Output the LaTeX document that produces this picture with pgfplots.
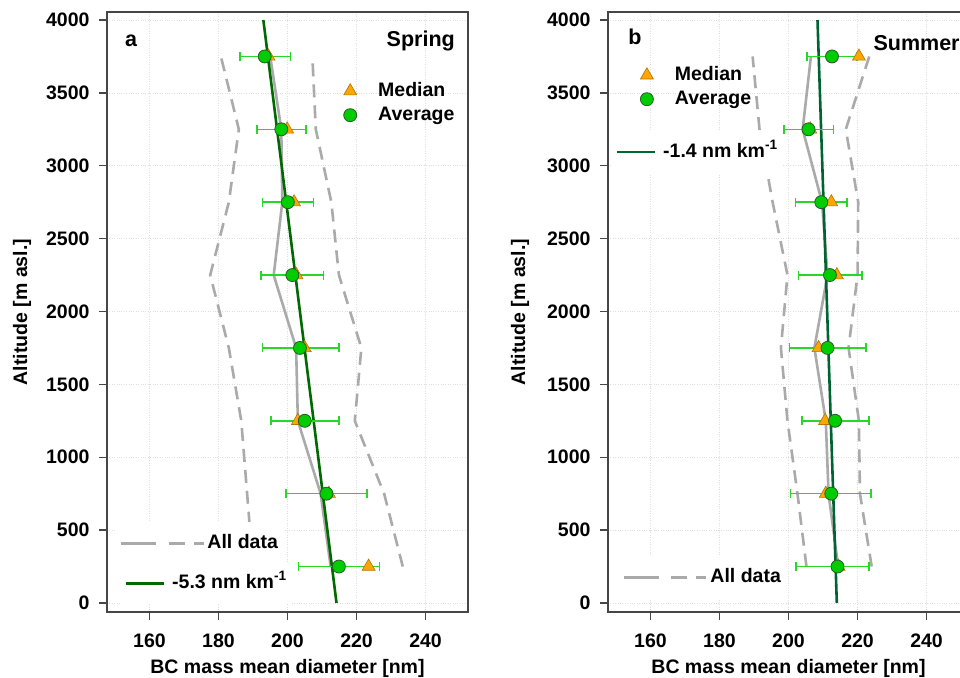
\documentclass[border=0pt]{standalone}
\usepackage{fontspec}
\setmainfont{Liberation Sans}
\usepackage{pgfplots}
\pgfplotsset{compat=1.18}

\definecolor{AxisGray}{RGB}{70,70,70}
\definecolor{GridGray}{RGB}{222,222,222}
\definecolor{AllGray}{RGB}{170,170,170}
\definecolor{RegA}{RGB}{0,105,0}
\definecolor{RegB}{RGB}{0,100,50}
\definecolor{ErrGreen}{RGB}{40,215,40}
\definecolor{AvgGreen}{RGB}{0,205,0}
\definecolor{AvgEdge}{RGB}{40,90,40}
\definecolor{MedOrange}{RGB}{255,165,0}
\definecolor{MedEdge}{RGB}{175,120,0}

\newcommand{\lbl}{\fontsize{19.5}{23}\selectfont\bfseries}
\newcommand{\ttl}{\fontsize{21.5}{25}\selectfont\bfseries}

\pgfplotsset{
  panel/.style={
    scale only axis, width=361pt, height=600pt, anchor=south west,
    xmin=147.7, xmax=252.3, ymin=-62, ymax=4055,
    xtick={160,180,200,220,240}, ytick={0,500,...,4000},
    tick pos=left, tick align=outside, major tick length=8pt,
    tick style={draw=AxisGray, line width=1.3pt},
    axis line style={draw=AxisGray, line width=1.3pt},
    grid=major, grid style={dotted, draw=GridGray, line width=0.7pt},
    ticklabel style={font=\lbl},
    xticklabel style={yshift=-10pt},
    yticklabel style={xshift=-6pt},
    /pgf/number format/assume math mode=true,
    /pgf/number format/1000 sep={},
    xlabel={BC mass mean diameter [nm]},
    ylabel={Altitude [m asl.]},
    every axis x label/.style={at={(axis description cs:0.5,-0.1017)}, anchor=base, font=\lbl},
    every axis y label/.style={at={(axis description cs:-0.2355,0.5)}, rotate=90, anchor=center, font=\lbl},
  },
  leg/.style={
    scale only axis, width=361pt, height=600pt, anchor=south west,
    hide axis, xmin=0, xmax=1, ymin=0, ymax=1,
    legend cell align=left,
    legend style={draw=none, font=\lbl, anchor=north west,
      nodes={inner sep=2pt, text height=14pt, text depth=4pt}},
  },
  markleg/.style={legend image code/.code={\draw[##1] plot coordinates {(0pt,0pt)}; \path[draw=none] (-8pt,0pt) -- (26pt,0pt);}},
  lineleg/.style={legend image code/.code={\draw[##1] (0pt,0pt) -- (#1,0pt); \path[draw=none] (0pt,0pt) -- (#1+2pt,0pt);}},
  regleg/.style={legend image code/.code={\draw[##1] (0pt,0pt) -- (38pt,0pt); \path[draw=none] (0pt,0pt) -- (44.7pt,0pt);}},
  medstyle/.style={only marks, mark=triangle*, mark size=7.5pt, mark options={fill=MedOrange, draw=MedEdge, line width=0.6pt}},
  avgstyle/.style={only marks, mark=*, mark size=6.5pt, mark options={fill=AvgGreen, draw=AvgEdge, line width=0.8pt}},
  errstyle/.style={ErrGreen, line width=1.6pt, only marks, mark=none, forget plot,
    error bars/.cd, x dir=both, x explicit, error mark=|,
    error bar style={draw=ErrGreen, line width=1.6pt},
    error mark options={draw=ErrGreen, line width=1.6pt, mark size=4.5pt}},
  grayline/.style={AllGray, line width=2.6pt},
  graydash/.style={AllGray, line width=2.6pt, dash pattern=on 13pt off 8pt},
  alldash/.style={AllGray, line width=2.6pt, dash pattern=on 35pt off 12pt on 16pt off 9pt on 10pt off 40pt},
}

\begin{document}
\begin{tikzpicture}
\useasboundingbox (0pt,0pt) rectangle (960pt,677pt);
\clip (0pt,0pt) rectangle (960pt,677pt);

% ---------------- panel a: Spring ----------------
\begin{axis}[panel, at={(107pt,65pt)}]
\addplot[grayline] coordinates {(212.5,250) (209.6,750) (203.0,1250) (202.5,1750) (196.0,2250) (198.5,2750) (198.2,3250) (195.0,3750)};
\addplot[graydash] coordinates {(190.0,250) (188.3,750) (186.6,1250) (183.0,1750) (177.6,2250) (183.0,2750) (185.9,3250) (180.7,3750)};
\addplot[graydash] coordinates {(233.4,250) (228.0,750) (219.5,1250) (221.4,1750) (214.9,2250) (212.7,2750) (208.2,3250) (207.2,3750)};
\addplot[RegA, line width=2.6pt] coordinates {(214.2,0) (193.0,4000)};
\addplot[errstyle] coordinates {
  (214.95,250) +- (11.75,0)
  (211.25,750) +- (11.75,0)
  (205.05,1250) +- (9.85,0)
  (203.85,1750) +- (11.05,0)
  (201.35,2250) +- (9.05,0)
  (200.15,2750) +- (7.35,0)
  (198.25,3250) +- (7.05,0)
  (193.55,3750) +- (7.35,0)
};
\addplot[medstyle] coordinates {(223.5,250) (212.0,750) (203.0,1250) (205.0,1750) (202.6,2250) (201.9,2750) (199.9,3250) (194.5,3750)};
\addplot[avgstyle] coordinates {(214.9,250) (211.3,750) (205.0,1250) (203.6,1750) (201.4,2250) (200.1,2750) (198.2,3250) (193.4,3750)};
\node[font=\ttl, anchor=base west, inner sep=0pt] at (rel axis cs:0.0499,0.9417) {a};
\node[font=\ttl, anchor=base east, inner sep=0pt] at (rel axis cs:0.964,0.9417) {Spring};
\end{axis}

\begin{axis}[leg, at={(107pt,65pt)}, legend style={at={(0.651,0.8867)}, fill=none, inner sep=0pt, row sep=2pt}]
\addlegendimage{medstyle, markleg}
\addlegendentry{Median}
\addlegendimage{avgstyle, markleg}
\addlegendentry{Average}
\end{axis}

\begin{axis}[leg, at={(107pt,65pt)}, legend style={at={(0.0277,0.15)}, fill=white, inner xsep=3pt, inner ysep=10pt}]
\addlegendimage{alldash, lineleg=82pt}
\addlegendentry{All data}
\end{axis}

\begin{axis}[leg, at={(107pt,65pt)}, legend style={at={(0.0388,0.0833)}, fill=white, inner xsep=3pt, inner ysep=10pt}]
\addlegendimage{RegA, line width=2.6pt, regleg}
\addlegendentry{-5.3 nm km\textsuperscript{-1}}
\end{axis}

% ---------------- panel b: Summer ----------------
\begin{axis}[panel, at={(608pt,65pt)}, every axis y label/.append style={at={(axis description cs:-0.2438,0.5)}}]
\addplot[grayline] coordinates {(214.4,250) (211.6,750) (210.8,1250) (207.5,1750) (211.3,2250) (209.7,2750) (204.1,3250) (206.5,3750)};
\addplot[graydash] coordinates {(205.2,250) (202.6,750) (199.7,1250) (197.8,1750) (199.7,2250) (195.4,2750) (191.6,3250) (189.6,3750)};
\addplot[graydash] coordinates {(224.1,250) (220.7,750) (220.4,1250) (217.4,1750) (220.0,2250) (220.2,2750) (216.6,3250) (223.4,3750)};
\addplot[RegB, line width=2.6pt] coordinates {(214.0,0) (208.4,4000)};
\addplot[errstyle] coordinates {
  (214.2,250) += (9.1,0) -= (12.1,0)
  (212.4,750) += (11.5,0) -= (11.8,0)
  (213.5,1250) += (9.9,0) -= (9.6,0)
  (211.3,1750) += (11.1,0) -= (11.0,0)
  (212.0,2250) += (9.25,0) -= (9.15,0)
  (209.5,2750) += (7.4,0) -= (7.5,0)
  (205.8,3250) += (7.2,0) -= (7.1,0)
  (212.6,3750) += (7.2,0) -= (7.2,0)
};
\addplot[medstyle] coordinates {(214.5,250) (210.8,750) (210.6,1250) (208.7,1750) (214.0,2250) (212.4,2750) (206.3,3250) (220.4,3750)};
\addplot[avgstyle] coordinates {(214.2,250) (212.4,750) (213.5,1250) (211.3,1750) (212.0,2250) (209.5,2750) (205.8,3250) (212.6,3750)};
\node[font=\ttl, anchor=base west, inner sep=0pt] at (rel axis cs:0.0562,0.945) {b};
\node[font=\ttl, anchor=base west, inner sep=0pt] at (rel axis cs:0.735,0.9355) {Summer};
\end{axis}

\begin{axis}[leg, at={(608pt,65pt)}, legend style={at={(0.085,0.9133)}, fill=none, inner sep=0pt, row sep=2pt}]
\addlegendimage{medstyle, markleg}
\addlegendentry{Median}
\addlegendimage{avgstyle, markleg}
\addlegendentry{Average}
\end{axis}

\begin{axis}[leg, at={(608pt,65pt)}, legend style={at={(0.0111,0.8017)}, fill=white, inner xsep=3pt, inner ysep=10pt}]
\addlegendimage{RegB, line width=2.6pt, regleg}
\addlegendentry{-1.4 nm km\textsuperscript{-1}}
\end{axis}

\begin{axis}[leg, at={(608pt,65pt)}, legend style={at={(0.0332,0.0933)}, fill=white, inner xsep=3pt, inner ysep=10pt}]
\addlegendimage{alldash, lineleg=82pt}
\addlegendentry{All data}
\end{axis}
\end{tikzpicture}
\end{document}
